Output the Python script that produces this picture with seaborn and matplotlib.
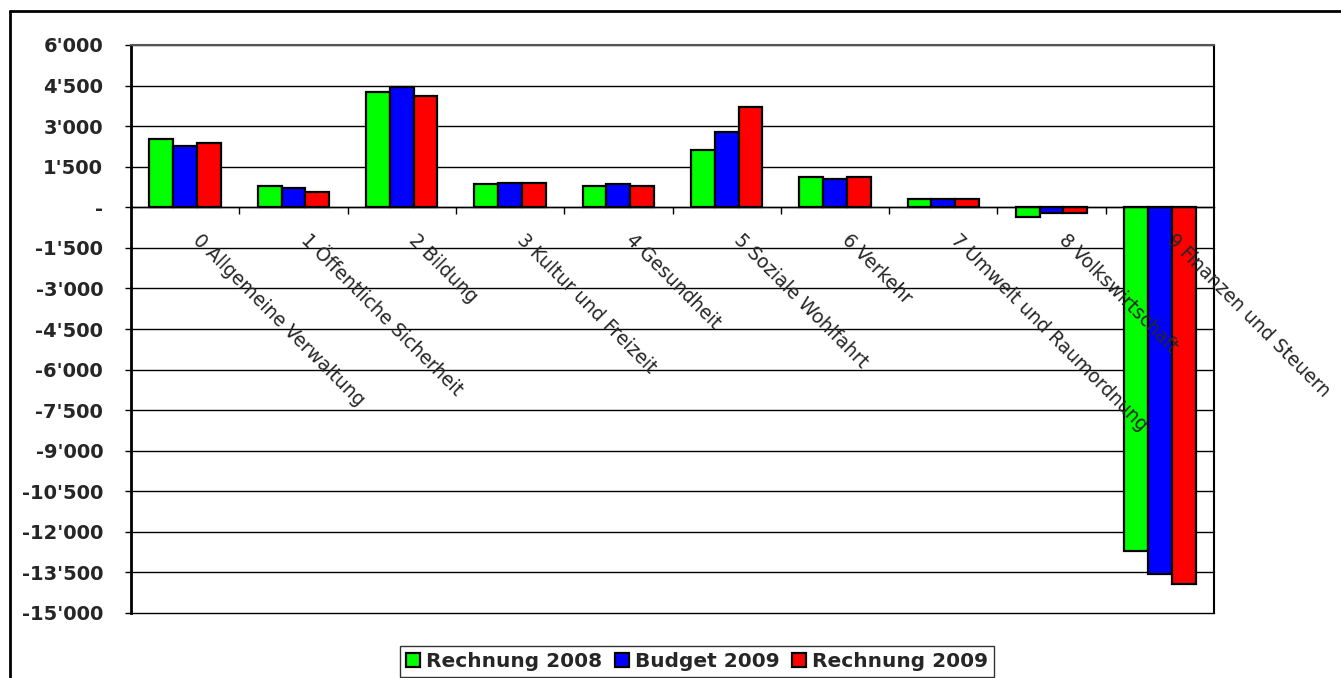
import numpy as np
import pandas as pd
import matplotlib
matplotlib.use("Agg")
import matplotlib.pyplot as plt
import matplotlib.transforms as mtransforms
from matplotlib.ticker import FuncFormatter, FixedLocator
from matplotlib.lines import Line2D
import seaborn as sns

categories = ["0 Allgemeine Verwaltung", "1 Öffentliche Sicherheit", "2 Bildung",
              "3 Kultur und Freizeit", "4 Gesundheit", "5 Soziale Wohlfahrt",
              "6 Verkehr", "7 Umwelt und Raumordnung", "8 Volkswirtschaft",
              "9 Finanzen und Steuern"]
series = ["Rechnung 2008", "Budget 2009", "Rechnung 2009"]
rechnung_2008 = [2520, 780, 4250, 850, 790, 2120, 1120, 310, -350, -12720]
budget_2009 = [2250, 720, 4430, 910, 850, 2790, 1060, 310, -210, -13540]
rechnung_2009 = [2370, 580, 4110, 910, 790, 3720, 1120, 310, -220, -13930]
colors = ["#00FF00", "#0000FF", "#FF0000"]
yticks = list(range(-15000, 6001, 1500))

df = pd.DataFrame({
    "cat": categories * 3,
    "series": [series[0]] * 10 + [series[1]] * 10 + [series[2]] * 10,
    "value": rechnung_2008 + budget_2009 + rechnung_2009,
})

sns.set_style("white")
plt.rcParams["font.family"] = ["DejaVu Sans"]

fig = plt.figure(figsize=(13.41, 6.78), dpi=100)
ax = fig.add_axes([131 / 1341, 1 - 613 / 678, (1214 - 131) / 1341, (613 - 45) / 678])

sns.barplot(data=df, x="cat", y="value", hue="series", palette=colors,
            width=0.66, edgecolor="black", linewidth=1.6, saturation=1,
            ax=ax, legend=True)

ax.set_ylim(-15000, 6000)
ax.set_xlim(-0.5, 9.5)
ax.set_yticks(yticks)
ax.yaxis.set_major_formatter(FuncFormatter(
    lambda v, p: "-" if v == 0 else f"{int(v):,}".replace(",", "'")))
ax.set_xlabel("")
ax.set_ylabel("")

ax.grid(axis="y", color="black", linewidth=1)
ax.grid(axis="x", visible=False)
ax.set_axisbelow(True)
ax.xaxis.set_zorder(3)
for gl in ax.get_ygridlines():
    gl.set_clip_on(False)

for side in ["left", "top", "right"]:
    ax.spines[side].set_color("black")
    ax.spines[side].set_linewidth(1.5)
ax.spines["top"].set_color("#555555")
ax.spines["left"].set_linewidth(2)
ax.spines["bottom"].set_position(("data", 0))
ax.spines["bottom"].set_color("black")
ax.spines["bottom"].set_linewidth(1)

ax.tick_params(axis="y", which="major", direction="out", length=4.5, width=1,
               color="black", left=True, labelsize=14, pad=15.5)
for lab in ax.get_yticklabels():
    lab.set_fontweight("bold")

ax.set_xticks(range(10))
ax.set_xticklabels(categories, rotation=-45, ha="left", va="top",
                   rotation_mode="anchor", fontsize=13.5)
ax.tick_params(axis="x", which="major", length=0, pad=15, bottom=True)
ax.xaxis.set_minor_locator(FixedLocator(np.arange(0.5, 9, 1.0)))
ax.tick_params(axis="x", which="minor", direction="out", length=5, width=1,
               color="black", bottom=True)
offset = mtransforms.ScaledTranslation(17 / 100, -2 / 100, fig.dpi_scale_trans)
for lab in ax.get_xticklabels():
    lab.set_transform(lab.get_transform() + offset)

handles, labels = ax.get_legend_handles_labels()
ax.get_legend().remove()
leg = fig.legend(handles, labels, loc="lower center", ncol=3,
                 bbox_to_anchor=(697 / 1341, 0.0), bbox_transform=fig.transFigure,
                 frameon=True, fancybox=False, edgecolor="black",
                 prop={"weight": "bold", "size": 14.5}, handlelength=0.7,
                 handleheight=0.7, handletextpad=0.3, columnspacing=0.6,
                 borderpad=0.3, borderaxespad=0.05)
leg.get_frame().set_linewidth(1)

fig.add_artist(Line2D([10 / 1341, 10 / 1341], [0, 1 - 11 / 678],
                      transform=fig.transFigure, color="black", linewidth=2))
fig.add_artist(Line2D([10 / 1341, 1], [1 - 11 / 678, 1 - 11 / 678],
                      transform=fig.transFigure, color="black", linewidth=2))

fig.savefig("out.png", dpi=100)
